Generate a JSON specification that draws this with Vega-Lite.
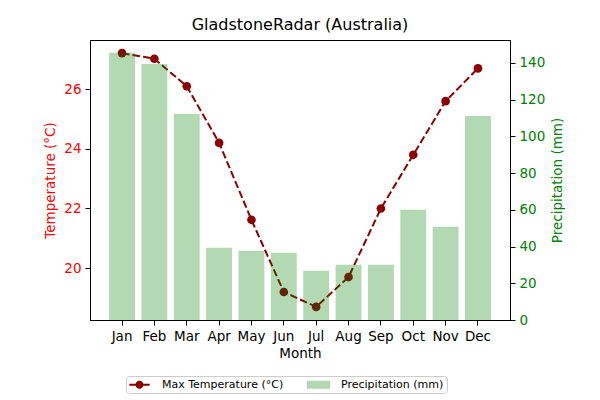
{
  "$schema": "https://vega.github.io/schema/vega-lite/v6.json",
  "width": 420,
  "height": 280,
  "autosize": {"type": "none"},
  "padding": {"left": 90, "top": 40, "right": 90, "bottom": 80},
  "title": {"text": "GladstoneRadar (Australia)", "font": "DejaVu Sans", "fontSize": 16, "fontWeight": "normal", "color": "black", "offset": 7},
  "config": {
    "font": "DejaVu Sans",
    "view": {"stroke": "black", "strokeWidth": 1},
    "axis": {"grid": false, "domainColor": "black", "tickColor": "black", "tickSize": 5, "labelFontSize": 13.5, "titleFontSize": 13.5, "titleFontWeight": "normal", "labelPadding": 4, "labelFont": "DejaVu Sans", "titleFont": "DejaVu Sans"}
  },
  "data": {"values": [
    {"month": "Jan", "temp": 27.21, "precip": 145.6, "series": "Precipitation (mm)"},
    {"month": "Feb", "temp": 27.02, "precip": 139.4, "series": "Precipitation (mm)"},
    {"month": "Mar", "temp": 26.1, "precip": 112.2, "series": "Precipitation (mm)"},
    {"month": "Apr", "temp": 24.2, "precip": 39.3, "series": "Precipitation (mm)"},
    {"month": "May", "temp": 21.62, "precip": 37.7, "series": "Precipitation (mm)"},
    {"month": "Jun", "temp": 19.2, "precip": 36.6, "series": "Precipitation (mm)"},
    {"month": "Jul", "temp": 18.7, "precip": 26.8, "series": "Precipitation (mm)"},
    {"month": "Aug", "temp": 19.7, "precip": 30.1, "series": "Precipitation (mm)"},
    {"month": "Sep", "temp": 22.0, "precip": 30.1, "series": "Precipitation (mm)"},
    {"month": "Oct", "temp": 23.8, "precip": 60.0, "series": "Precipitation (mm)"},
    {"month": "Nov", "temp": 25.6, "precip": 50.8, "series": "Precipitation (mm)"},
    {"month": "Dec", "temp": 26.7, "precip": 111.1, "series": "Precipitation (mm)"}
  ]},
  "encoding": {
    "x": {
      "field": "month", "type": "ordinal", "sort": null,
      "scale": {"paddingInner": 0.2, "paddingOuter": 0.59},
      "axis": {"title": "Month", "labelAngle": 0, "titlePadding": 4}
    }
  },
  "layer": [
    {
      "mark": {"type": "line", "color": "#8b0000", "strokeWidth": 2, "strokeDash": [7.5, 3.2], "point": {"filled": true, "color": "#8b0000", "size": 75, "opacity": 1}},
      "encoding": {
        "y": {
          "field": "temp", "type": "quantitative",
          "scale": {"domain": [18.26, 27.65], "nice": false, "zero": false},
          "axis": {"title": "Temperature (°C)", "titleColor": "red", "labelColor": "red", "values": [20, 22, 24, 26], "orient": "left", "titlePadding": 6}
        }
      }
    },
    {
      "mark": {"type": "bar", "opacity": 0.3, "color": "green"},
      "encoding": {
        "y": {
          "field": "precip", "type": "quantitative",
          "scale": {"domain": [0, 152.5], "nice": false},
          "axis": {"title": "Precipitation (mm)", "titleColor": "green", "labelColor": "green", "values": [0, 20, 40, 60, 80, 100, 120, 140], "orient": "right", "titlePadding": 6, "titleAngle": 270, "titleBaseline": "top"}
        }
      }
    },
    {
      "mark": {"type": "point", "filled": true, "opacity": 0},
      "encoding": {
        "y": {"field": "precip", "type": "quantitative", "axis": null},
        "color": {
          "field": "series", "type": "nominal",
          "scale": {"domain": ["Max Temperature (°C)", "Precipitation (mm)"], "range": ["#8b0000", "#b2d8b2"]},
          "legend": {
            "title": null,
            "orient": "none",
            "legendX": 36,
            "legendY": 336,
            "direction": "horizontal",
            "labelFontSize": 11,
            "labelFont": "DejaVu Sans",
            "labelColor": "black",
            "symbolSize": 121,
            "symbolOffset": 5,
            "symbolStrokeWidth": 0,
            "symbolOpacity": 1,
            "columnPadding": 22,
            "labelOffset": 17,
            "strokeColor": "#cccccc",
            "cornerRadius": 3,
            "padding": 3,
            "fillColor": "white"
          }
        },
        "shape": {
          "field": "series", "type": "nominal",
          "scale": {"domain": ["Max Temperature (°C)", "Precipitation (mm)"], "range": ["M-1.85,-0.18H1.85V0.18H-1.85ZM-0.73,0A0.73,0.73 0 1 1 0.73,0A0.73,0.73 0 1 1 -0.73,0Z", "M-2.1,-0.73H2.1V0.73H-2.1Z"]},
          "legend": {
            "title": null,
            "orient": "none",
            "legendX": 36,
            "legendY": 336,
            "direction": "horizontal",
            "labelFontSize": 11,
            "labelFont": "DejaVu Sans",
            "labelColor": "black",
            "symbolSize": 121,
            "symbolOffset": 5,
            "symbolStrokeWidth": 0,
            "symbolOpacity": 1,
            "columnPadding": 22,
            "labelOffset": 17,
            "strokeColor": "#cccccc",
            "cornerRadius": 3,
            "padding": 3,
            "fillColor": "white"
          }
        }
      }
    }
  ],
  "resolve": {"scale": {"y": "independent"}}
}
